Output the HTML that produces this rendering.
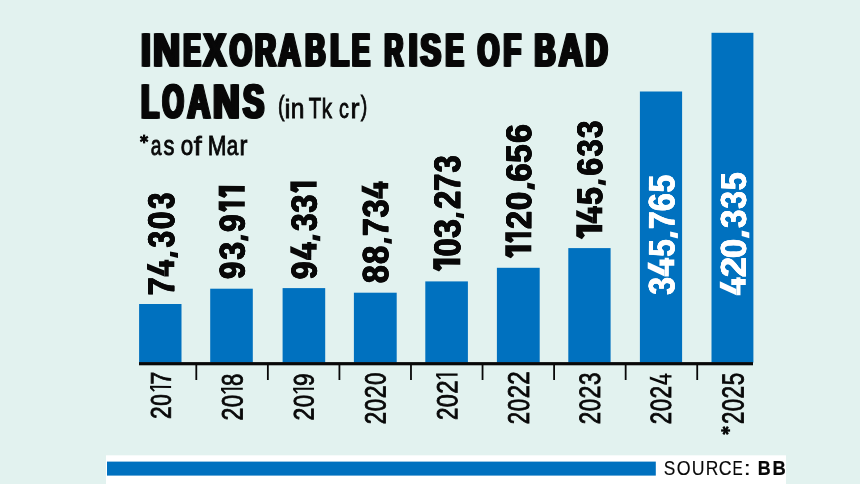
<!DOCTYPE html>
<html><head><meta charset="utf-8"><style>
html,body{margin:0;padding:0;background:#e2f2ef;}
body{width:860px;height:484px;overflow:hidden;}
svg{display:block;will-change:transform;}
text{font-family:"Liberation Sans",sans-serif;}
</style></head><body>
<svg width="860" height="484" viewBox="0 0 860 484">
<rect x="0" y="0" width="860" height="484" fill="#e2f2ef"/>
<rect x="139.1" y="304" width="42.40" height="58.60" fill="#0071bf"/>
<rect x="210.2" y="288.7" width="42.60" height="73.90" fill="#0071bf"/>
<rect x="282.6" y="288.1" width="42.60" height="74.50" fill="#0071bf"/>
<rect x="353.9" y="292.7" width="42.80" height="69.90" fill="#0071bf"/>
<rect x="425.3" y="281.4" width="42.60" height="81.20" fill="#0071bf"/>
<rect x="496.9" y="267.8" width="42.80" height="94.80" fill="#0071bf"/>
<rect x="568.3" y="248.1" width="42.30" height="114.50" fill="#0071bf"/>
<rect x="639.9" y="91.5" width="42.20" height="271.10" fill="#0071bf"/>
<rect x="711.5" y="32.8" width="41.90" height="329.80" fill="#0071bf"/>
<rect x="139" y="362.1" width="614" height="3.2" fill="#080808"/>
<rect x="195.40" y="364.1" width="1.8" height="15.9" fill="#080808"/>
<rect x="266.96" y="364.1" width="1.8" height="15.9" fill="#080808"/>
<rect x="338.52" y="364.1" width="1.8" height="15.9" fill="#080808"/>
<rect x="410.08" y="364.1" width="1.8" height="15.9" fill="#080808"/>
<rect x="481.64" y="364.1" width="1.8" height="15.9" fill="#080808"/>
<rect x="553.20" y="364.1" width="1.8" height="15.9" fill="#080808"/>
<rect x="624.76" y="364.1" width="1.8" height="15.9" fill="#080808"/>
<rect x="696.32" y="364.1" width="1.8" height="15.9" fill="#080808"/>
<g stroke="#080808" stroke-width="2.2"><line x1="144.10" y1="134.60" x2="144.10" y2="143.40"/><line x1="140.29" y1="136.80" x2="147.91" y2="141.20"/><line x1="140.29" y1="141.20" x2="147.91" y2="136.80"/></g>
<rect x="106" y="455.3" width="680" height="29" fill="#ffffff"/>
<rect x="107" y="461.6" width="548.8" height="14" fill="#0071bf"/>
<g stroke="#080808" stroke-width="2.3" stroke-linecap="butt"><line x1="721.10" y1="430.50" x2="730.10" y2="430.50"/><line x1="723.35" y1="426.60" x2="727.85" y2="434.40"/><line x1="727.85" y1="426.60" x2="723.35" y2="434.40"/></g>
<text transform="translate(141.70,66.00) scale(0.6971,1.0000)" x="-2.32" font-size="46.66" font-weight="bold" fill="#080808" stroke="#080808" stroke-width="1.60" stroke-linejoin="miter">I</text>
<text transform="translate(143.00,66.00) scale(0.6971,1.0000)" x="-2.32" font-size="46.66" font-weight="bold" fill="#080808" stroke="#080808" stroke-width="1.60" stroke-linejoin="miter">I</text>
<text transform="translate(144.30,66.00) scale(0.6971,1.0000)" x="-2.32" font-size="46.66" font-weight="bold" fill="#080808" stroke="#080808" stroke-width="1.60" stroke-linejoin="miter">I</text>
<text transform="translate(153.80,66.00) scale(0.7923,1.0000)" x="-2.32" font-size="46.66" font-weight="bold" fill="#080808" stroke="#080808" stroke-width="1.60" stroke-linejoin="miter">N</text>
<text transform="translate(155.10,66.00) scale(0.7923,1.0000)" x="-2.32" font-size="46.66" font-weight="bold" fill="#080808" stroke="#080808" stroke-width="1.60" stroke-linejoin="miter">N</text>
<text transform="translate(156.40,66.00) scale(0.7923,1.0000)" x="-2.32" font-size="46.66" font-weight="bold" fill="#080808" stroke="#080808" stroke-width="1.60" stroke-linejoin="miter">N</text>
<text transform="translate(183.60,66.00) scale(0.5436,1.0000)" x="-2.32" font-size="46.66" font-weight="bold" fill="#080808" stroke="#080808" stroke-width="1.60" stroke-linejoin="miter">E</text>
<text transform="translate(184.90,66.00) scale(0.5436,1.0000)" x="-2.32" font-size="46.66" font-weight="bold" fill="#080808" stroke="#080808" stroke-width="1.60" stroke-linejoin="miter">E</text>
<text transform="translate(186.20,66.00) scale(0.5436,1.0000)" x="-2.32" font-size="46.66" font-weight="bold" fill="#080808" stroke="#080808" stroke-width="1.60" stroke-linejoin="miter">E</text>
<text transform="translate(202.30,66.00) scale(0.7022,1.0000)" x="0.39" font-size="46.66" font-weight="bold" fill="#080808" stroke="#080808" stroke-width="1.60" stroke-linejoin="miter">X</text>
<text transform="translate(203.60,66.00) scale(0.7022,1.0000)" x="0.39" font-size="46.66" font-weight="bold" fill="#080808" stroke="#080808" stroke-width="1.60" stroke-linejoin="miter">X</text>
<text transform="translate(204.90,66.00) scale(0.7022,1.0000)" x="0.39" font-size="46.66" font-weight="bold" fill="#080808" stroke="#080808" stroke-width="1.60" stroke-linejoin="miter">X</text>
<text transform="translate(229.20,66.00) scale(0.6056,1.0000)" x="-1.11" font-size="46.66" font-weight="bold" fill="#080808" stroke="#080808" stroke-width="1.60" stroke-linejoin="miter">O</text>
<text transform="translate(230.50,66.00) scale(0.6056,1.0000)" x="-1.11" font-size="46.66" font-weight="bold" fill="#080808" stroke="#080808" stroke-width="1.60" stroke-linejoin="miter">O</text>
<text transform="translate(231.80,66.00) scale(0.6056,1.0000)" x="-1.11" font-size="46.66" font-weight="bold" fill="#080808" stroke="#080808" stroke-width="1.60" stroke-linejoin="miter">O</text>
<text transform="translate(255.20,66.00) scale(0.6151,1.0000)" x="-2.32" font-size="46.66" font-weight="bold" fill="#080808" stroke="#080808" stroke-width="1.60" stroke-linejoin="miter">R</text>
<text transform="translate(256.50,66.00) scale(0.6151,1.0000)" x="-2.32" font-size="46.66" font-weight="bold" fill="#080808" stroke="#080808" stroke-width="1.60" stroke-linejoin="miter">R</text>
<text transform="translate(257.80,66.00) scale(0.6151,1.0000)" x="-2.32" font-size="46.66" font-weight="bold" fill="#080808" stroke="#080808" stroke-width="1.60" stroke-linejoin="miter">R</text>
<text transform="translate(277.50,66.00) scale(0.6535,1.0000)" x="-0.36" font-size="46.66" font-weight="bold" fill="#080808" stroke="#080808" stroke-width="1.60" stroke-linejoin="miter">A</text>
<text transform="translate(278.80,66.00) scale(0.6535,1.0000)" x="-0.36" font-size="46.66" font-weight="bold" fill="#080808" stroke="#080808" stroke-width="1.60" stroke-linejoin="miter">A</text>
<text transform="translate(280.10,66.00) scale(0.6535,1.0000)" x="-0.36" font-size="46.66" font-weight="bold" fill="#080808" stroke="#080808" stroke-width="1.60" stroke-linejoin="miter">A</text>
<text transform="translate(305.30,66.00) scale(0.6022,1.0000)" x="-2.32" font-size="46.66" font-weight="bold" fill="#080808" stroke="#080808" stroke-width="1.60" stroke-linejoin="miter">B</text>
<text transform="translate(306.60,66.00) scale(0.6022,1.0000)" x="-2.32" font-size="46.66" font-weight="bold" fill="#080808" stroke="#080808" stroke-width="1.60" stroke-linejoin="miter">B</text>
<text transform="translate(307.90,66.00) scale(0.6022,1.0000)" x="-2.32" font-size="46.66" font-weight="bold" fill="#080808" stroke="#080808" stroke-width="1.60" stroke-linejoin="miter">B</text>
<text transform="translate(330.60,66.00) scale(0.6460,1.0000)" x="-2.32" font-size="46.66" font-weight="bold" fill="#080808" stroke="#080808" stroke-width="1.60" stroke-linejoin="miter">L</text>
<text transform="translate(331.90,66.00) scale(0.6460,1.0000)" x="-2.32" font-size="46.66" font-weight="bold" fill="#080808" stroke="#080808" stroke-width="1.60" stroke-linejoin="miter">L</text>
<text transform="translate(333.20,66.00) scale(0.6460,1.0000)" x="-2.32" font-size="46.66" font-weight="bold" fill="#080808" stroke="#080808" stroke-width="1.60" stroke-linejoin="miter">L</text>
<text transform="translate(352.00,66.00) scale(0.5760,1.0000)" x="-2.32" font-size="46.66" font-weight="bold" fill="#080808" stroke="#080808" stroke-width="1.60" stroke-linejoin="miter">E</text>
<text transform="translate(353.30,66.00) scale(0.5760,1.0000)" x="-2.32" font-size="46.66" font-weight="bold" fill="#080808" stroke="#080808" stroke-width="1.60" stroke-linejoin="miter">E</text>
<text transform="translate(354.60,66.00) scale(0.5760,1.0000)" x="-2.32" font-size="46.66" font-weight="bold" fill="#080808" stroke="#080808" stroke-width="1.60" stroke-linejoin="miter">E</text>
<text transform="translate(384.50,66.00) scale(0.5542,1.0000)" x="-2.32" font-size="46.66" font-weight="bold" fill="#080808" stroke="#080808" stroke-width="1.60" stroke-linejoin="miter">R</text>
<text transform="translate(385.80,66.00) scale(0.5542,1.0000)" x="-2.32" font-size="46.66" font-weight="bold" fill="#080808" stroke="#080808" stroke-width="1.60" stroke-linejoin="miter">R</text>
<text transform="translate(387.10,66.00) scale(0.5542,1.0000)" x="-2.32" font-size="46.66" font-weight="bold" fill="#080808" stroke="#080808" stroke-width="1.60" stroke-linejoin="miter">R</text>
<text transform="translate(409.00,66.00) scale(0.6850,1.0000)" x="-2.32" font-size="46.66" font-weight="bold" fill="#080808" stroke="#080808" stroke-width="1.60" stroke-linejoin="miter">I</text>
<text transform="translate(410.30,66.00) scale(0.6850,1.0000)" x="-2.32" font-size="46.66" font-weight="bold" fill="#080808" stroke="#080808" stroke-width="1.60" stroke-linejoin="miter">I</text>
<text transform="translate(411.60,66.00) scale(0.6850,1.0000)" x="-2.32" font-size="46.66" font-weight="bold" fill="#080808" stroke="#080808" stroke-width="1.60" stroke-linejoin="miter">I</text>
<text transform="translate(419.70,66.00) scale(0.6497,1.0000)" x="-0.54" font-size="46.66" font-weight="bold" fill="#080808" stroke="#080808" stroke-width="1.60" stroke-linejoin="miter">S</text>
<text transform="translate(421.00,66.00) scale(0.6497,1.0000)" x="-0.54" font-size="46.66" font-weight="bold" fill="#080808" stroke="#080808" stroke-width="1.60" stroke-linejoin="miter">S</text>
<text transform="translate(422.30,66.00) scale(0.6497,1.0000)" x="-0.54" font-size="46.66" font-weight="bold" fill="#080808" stroke="#080808" stroke-width="1.60" stroke-linejoin="miter">S</text>
<text transform="translate(445.70,66.00) scale(0.5760,1.0000)" x="-2.32" font-size="46.66" font-weight="bold" fill="#080808" stroke="#080808" stroke-width="1.60" stroke-linejoin="miter">E</text>
<text transform="translate(447.00,66.00) scale(0.5760,1.0000)" x="-2.32" font-size="46.66" font-weight="bold" fill="#080808" stroke="#080808" stroke-width="1.60" stroke-linejoin="miter">E</text>
<text transform="translate(448.30,66.00) scale(0.5760,1.0000)" x="-2.32" font-size="46.66" font-weight="bold" fill="#080808" stroke="#080808" stroke-width="1.60" stroke-linejoin="miter">E</text>
<text transform="translate(477.10,66.00) scale(0.5938,1.0000)" x="-1.11" font-size="46.66" font-weight="bold" fill="#080808" stroke="#080808" stroke-width="1.60" stroke-linejoin="miter">O</text>
<text transform="translate(478.40,66.00) scale(0.5938,1.0000)" x="-1.11" font-size="46.66" font-weight="bold" fill="#080808" stroke="#080808" stroke-width="1.60" stroke-linejoin="miter">O</text>
<text transform="translate(479.70,66.00) scale(0.5938,1.0000)" x="-1.11" font-size="46.66" font-weight="bold" fill="#080808" stroke="#080808" stroke-width="1.60" stroke-linejoin="miter">O</text>
<text transform="translate(503.60,66.00) scale(0.6134,1.0000)" x="-2.32" font-size="46.66" font-weight="bold" fill="#080808" stroke="#080808" stroke-width="1.60" stroke-linejoin="miter">F</text>
<text transform="translate(504.90,66.00) scale(0.6134,1.0000)" x="-2.32" font-size="46.66" font-weight="bold" fill="#080808" stroke="#080808" stroke-width="1.60" stroke-linejoin="miter">F</text>
<text transform="translate(506.20,66.00) scale(0.6134,1.0000)" x="-2.32" font-size="46.66" font-weight="bold" fill="#080808" stroke="#080808" stroke-width="1.60" stroke-linejoin="miter">F</text>
<text transform="translate(534.80,66.00) scale(0.6189,1.0000)" x="-2.32" font-size="46.66" font-weight="bold" fill="#080808" stroke="#080808" stroke-width="1.60" stroke-linejoin="miter">B</text>
<text transform="translate(536.10,66.00) scale(0.6189,1.0000)" x="-2.32" font-size="46.66" font-weight="bold" fill="#080808" stroke="#080808" stroke-width="1.60" stroke-linejoin="miter">B</text>
<text transform="translate(537.40,66.00) scale(0.6189,1.0000)" x="-2.32" font-size="46.66" font-weight="bold" fill="#080808" stroke="#080808" stroke-width="1.60" stroke-linejoin="miter">B</text>
<text transform="translate(557.90,66.00) scale(0.6990,1.0000)" x="-0.36" font-size="46.66" font-weight="bold" fill="#080808" stroke="#080808" stroke-width="1.60" stroke-linejoin="miter">A</text>
<text transform="translate(559.20,66.00) scale(0.6990,1.0000)" x="-0.36" font-size="46.66" font-weight="bold" fill="#080808" stroke="#080808" stroke-width="1.60" stroke-linejoin="miter">A</text>
<text transform="translate(560.50,66.00) scale(0.6990,1.0000)" x="-0.36" font-size="46.66" font-weight="bold" fill="#080808" stroke="#080808" stroke-width="1.60" stroke-linejoin="miter">A</text>
<text transform="translate(585.80,66.00) scale(0.6520,1.0000)" x="-2.32" font-size="46.66" font-weight="bold" fill="#080808" stroke="#080808" stroke-width="1.60" stroke-linejoin="miter">D</text>
<text transform="translate(587.10,66.00) scale(0.6520,1.0000)" x="-2.32" font-size="46.66" font-weight="bold" fill="#080808" stroke="#080808" stroke-width="1.60" stroke-linejoin="miter">D</text>
<text transform="translate(588.40,66.00) scale(0.6520,1.0000)" x="-2.32" font-size="46.66" font-weight="bold" fill="#080808" stroke="#080808" stroke-width="1.60" stroke-linejoin="miter">D</text>
<text transform="translate(141.50,118.00) scale(0.5900,1.0000)" x="-2.44" font-size="48.40" font-weight="bold" fill="#080808" stroke="#080808" stroke-width="1.60" stroke-linejoin="miter">L</text>
<text transform="translate(142.80,118.00) scale(0.5900,1.0000)" x="-2.44" font-size="48.40" font-weight="bold" fill="#080808" stroke="#080808" stroke-width="1.60" stroke-linejoin="miter">L</text>
<text transform="translate(144.10,118.00) scale(0.5900,1.0000)" x="-2.44" font-size="48.40" font-weight="bold" fill="#080808" stroke="#080808" stroke-width="1.60" stroke-linejoin="miter">L</text>
<text transform="translate(161.90,118.00) scale(0.5649,1.0000)" x="-1.19" font-size="48.40" font-weight="bold" fill="#080808" stroke="#080808" stroke-width="1.60" stroke-linejoin="miter">O</text>
<text transform="translate(163.20,118.00) scale(0.5649,1.0000)" x="-1.19" font-size="48.40" font-weight="bold" fill="#080808" stroke="#080808" stroke-width="1.60" stroke-linejoin="miter">O</text>
<text transform="translate(164.50,118.00) scale(0.5649,1.0000)" x="-1.19" font-size="48.40" font-weight="bold" fill="#080808" stroke="#080808" stroke-width="1.60" stroke-linejoin="miter">O</text>
<text transform="translate(186.60,118.00) scale(0.6428,1.0000)" x="-0.41" font-size="48.40" font-weight="bold" fill="#080808" stroke="#080808" stroke-width="1.60" stroke-linejoin="miter">A</text>
<text transform="translate(187.90,118.00) scale(0.6428,1.0000)" x="-0.41" font-size="48.40" font-weight="bold" fill="#080808" stroke="#080808" stroke-width="1.60" stroke-linejoin="miter">A</text>
<text transform="translate(189.20,118.00) scale(0.6428,1.0000)" x="-0.41" font-size="48.40" font-weight="bold" fill="#080808" stroke="#080808" stroke-width="1.60" stroke-linejoin="miter">A</text>
<text transform="translate(213.70,118.00) scale(0.7553,1.0000)" x="-2.44" font-size="48.40" font-weight="bold" fill="#080808" stroke="#080808" stroke-width="1.60" stroke-linejoin="miter">N</text>
<text transform="translate(215.00,118.00) scale(0.7553,1.0000)" x="-2.44" font-size="48.40" font-weight="bold" fill="#080808" stroke="#080808" stroke-width="1.60" stroke-linejoin="miter">N</text>
<text transform="translate(216.30,118.00) scale(0.7553,1.0000)" x="-2.44" font-size="48.40" font-weight="bold" fill="#080808" stroke="#080808" stroke-width="1.60" stroke-linejoin="miter">N</text>
<text transform="translate(242.10,118.00) scale(0.6536,1.0000)" x="-0.59" font-size="48.40" font-weight="bold" fill="#080808" stroke="#080808" stroke-width="1.60" stroke-linejoin="miter">S</text>
<text transform="translate(243.40,118.00) scale(0.6536,1.0000)" x="-0.59" font-size="48.40" font-weight="bold" fill="#080808" stroke="#080808" stroke-width="1.60" stroke-linejoin="miter">S</text>
<text transform="translate(244.70,118.00) scale(0.6536,1.0000)" x="-0.59" font-size="48.40" font-weight="bold" fill="#080808" stroke="#080808" stroke-width="1.60" stroke-linejoin="miter">S</text>
<text transform="translate(279.00,115.40) scale(0.6738,0.9300)" x="-1.35" font-size="29.07" font-weight="normal" fill="#080808" stroke="#080808" stroke-width="0.90" stroke-linejoin="miter">(</text>
<text transform="translate(285.90,118.00) scale(0.9262,0.8750)" x="-1.49" font-size="29.07" font-weight="normal" fill="#080808" stroke="#080808" stroke-width="0.90" stroke-linejoin="miter">i</text>
<text transform="translate(292.00,118.00) scale(0.8453,0.9500)" x="-1.48" font-size="29.07" font-weight="normal" fill="#080808" stroke="#080808" stroke-width="0.90" stroke-linejoin="miter">n</text>
<text transform="translate(309.00,118.00) scale(0.7037,1.0000)" x="-0.20" font-size="29.07" font-weight="normal" fill="#080808" stroke="#080808" stroke-width="0.90" stroke-linejoin="miter">T</text>
<text transform="translate(322.90,118.00) scale(0.7101,0.9400)" x="-1.51" font-size="29.07" font-weight="normal" fill="#080808" stroke="#080808" stroke-width="0.90" stroke-linejoin="miter">k</text>
<text transform="translate(339.50,118.00) scale(0.6774,0.9500)" x="-0.78" font-size="29.07" font-weight="normal" fill="#080808" stroke="#080808" stroke-width="0.90" stroke-linejoin="miter">c</text>
<text transform="translate(351.80,118.00) scale(0.9305,0.9500)" x="-1.48" font-size="29.07" font-weight="normal" fill="#080808" stroke="#080808" stroke-width="0.90" stroke-linejoin="miter">r</text>
<text transform="translate(360.50,115.40) scale(0.6738,0.9300)" x="0.28" font-size="29.07" font-weight="normal" fill="#080808" stroke="#080808" stroke-width="0.90" stroke-linejoin="miter">)</text>
<text transform="translate(151.20,155.00) scale(0.6792,0.9440)" x="-0.75" font-size="28.34" font-weight="normal" fill="#080808" stroke="#080808" stroke-width="0.90" stroke-linejoin="miter">a</text>
<text transform="translate(163.80,155.00) scale(0.7693,0.9440)" x="-0.34" font-size="28.34" font-weight="normal" fill="#080808" stroke="#080808" stroke-width="0.90" stroke-linejoin="miter">s</text>
<text transform="translate(181.30,155.00) scale(0.7912,0.9440)" x="-0.74" font-size="28.34" font-weight="normal" fill="#080808" stroke="#080808" stroke-width="0.90" stroke-linejoin="miter">o</text>
<text transform="translate(193.60,155.00) scale(1.0101,0.9300)" x="0.05" font-size="28.34" font-weight="normal" fill="#080808" stroke="#080808" stroke-width="0.90" stroke-linejoin="miter">f</text>
<text transform="translate(209.30,155.00) scale(0.7956,1.0000)" x="-1.88" font-size="28.34" font-weight="normal" fill="#080808" stroke="#080808" stroke-width="0.90" stroke-linejoin="miter">M</text>
<text transform="translate(227.20,155.00) scale(0.7310,0.9440)" x="-0.75" font-size="28.34" font-weight="normal" fill="#080808" stroke="#080808" stroke-width="0.90" stroke-linejoin="miter">a</text>
<text transform="translate(240.60,155.00) scale(0.8390,0.9440)" x="-1.43" font-size="28.34" font-weight="normal" fill="#080808" stroke="#080808" stroke-width="0.90" stroke-linejoin="miter">r</text>
<text transform="translate(174.00,294.60) rotate(-89.9) scale(0.8666,1)" x="-1.29" font-size="37.08" font-weight="bold" fill="#080808" stroke="#080808" stroke-width="0.60" stroke-linejoin="miter">7</text>
<text transform="translate(174.00,294.25) rotate(-89.9) scale(0.8666,1)" x="-1.29" font-size="37.08" font-weight="bold" fill="#080808" stroke="#080808" stroke-width="0.60" stroke-linejoin="miter">7</text>
<text transform="translate(174.00,293.90) rotate(-89.9) scale(0.8666,1)" x="-1.29" font-size="37.08" font-weight="bold" fill="#080808" stroke="#080808" stroke-width="0.60" stroke-linejoin="miter">7</text>
<polygon transform="translate(174.30,276.50) rotate(-89.9)" points="0.00,-9.90 16.80,-9.90 16.80,-5.60 0.00,-5.60" fill="#080808"/>
<polygon transform="translate(174.30,276.50) rotate(-89.9)" points="9.60,-15.30 15.20,-15.30 15.20,0.00 9.60,0.00" fill="#080808"/>
<polygon transform="translate(174.30,276.50) rotate(-89.9)" points="7.00,-27.30 12.90,-27.30 5.90,-9.90 0.00,-9.90" fill="#080808"/>
<polygon transform="translate(174.30,257.90) rotate(-89.9)" points="6.50,-4.30 1.79,-4.30 0.00,3.70 4.90,3.70" fill="#080808"/>
<text transform="translate(174.00,247.40) rotate(-89.9) scale(0.7986,1)" x="-0.55" font-size="37.08" font-weight="bold" fill="#080808" stroke="#080808" stroke-width="0.60" stroke-linejoin="miter">3</text>
<text transform="translate(174.00,247.05) rotate(-89.9) scale(0.7986,1)" x="-0.55" font-size="37.08" font-weight="bold" fill="#080808" stroke="#080808" stroke-width="0.60" stroke-linejoin="miter">3</text>
<text transform="translate(174.00,246.70) rotate(-89.9) scale(0.7986,1)" x="-0.55" font-size="37.08" font-weight="bold" fill="#080808" stroke="#080808" stroke-width="0.60" stroke-linejoin="miter">3</text>
<text transform="translate(174.00,228.60) rotate(-89.9) scale(0.8609,1)" x="-1.17" font-size="37.08" font-weight="bold" fill="#080808" stroke="#080808" stroke-width="0.60" stroke-linejoin="miter">0</text>
<text transform="translate(174.00,228.25) rotate(-89.9) scale(0.8609,1)" x="-1.17" font-size="37.08" font-weight="bold" fill="#080808" stroke="#080808" stroke-width="0.60" stroke-linejoin="miter">0</text>
<text transform="translate(174.00,227.90) rotate(-89.9) scale(0.8609,1)" x="-1.17" font-size="37.08" font-weight="bold" fill="#080808" stroke="#080808" stroke-width="0.60" stroke-linejoin="miter">0</text>
<text transform="translate(174.00,208.75) rotate(-89.9) scale(0.7802,1)" x="-0.55" font-size="37.08" font-weight="bold" fill="#080808" stroke="#080808" stroke-width="0.60" stroke-linejoin="miter">3</text>
<text transform="translate(174.00,208.40) rotate(-89.9) scale(0.7802,1)" x="-0.55" font-size="37.08" font-weight="bold" fill="#080808" stroke="#080808" stroke-width="0.60" stroke-linejoin="miter">3</text>
<text transform="translate(174.00,208.05) rotate(-89.9) scale(0.7802,1)" x="-0.55" font-size="37.08" font-weight="bold" fill="#080808" stroke="#080808" stroke-width="0.60" stroke-linejoin="miter">3</text>
<text transform="translate(244.50,278.50) rotate(-89.9) scale(0.8697,1)" x="-0.93" font-size="35.56" font-weight="bold" fill="#080808" stroke="#080808" stroke-width="0.60" stroke-linejoin="miter">9</text>
<text transform="translate(244.50,278.15) rotate(-89.9) scale(0.8697,1)" x="-0.93" font-size="35.56" font-weight="bold" fill="#080808" stroke="#080808" stroke-width="0.60" stroke-linejoin="miter">9</text>
<text transform="translate(244.50,277.80) rotate(-89.9) scale(0.8697,1)" x="-0.93" font-size="35.56" font-weight="bold" fill="#080808" stroke="#080808" stroke-width="0.60" stroke-linejoin="miter">9</text>
<text transform="translate(244.50,259.60) rotate(-89.9) scale(0.8865,1)" x="-0.52" font-size="35.56" font-weight="bold" fill="#080808" stroke="#080808" stroke-width="0.60" stroke-linejoin="miter">3</text>
<text transform="translate(244.50,259.25) rotate(-89.9) scale(0.8865,1)" x="-0.52" font-size="35.56" font-weight="bold" fill="#080808" stroke="#080808" stroke-width="0.60" stroke-linejoin="miter">3</text>
<text transform="translate(244.50,258.90) rotate(-89.9) scale(0.8865,1)" x="-0.52" font-size="35.56" font-weight="bold" fill="#080808" stroke="#080808" stroke-width="0.60" stroke-linejoin="miter">3</text>
<polygon transform="translate(244.80,241.30) rotate(-89.9)" points="6.50,-4.13 1.79,-4.13 0.00,3.55 4.90,3.55" fill="#080808"/>
<text transform="translate(244.50,231.50) rotate(-89.9) scale(0.8978,1)" x="-0.93" font-size="35.56" font-weight="bold" fill="#080808" stroke="#080808" stroke-width="0.60" stroke-linejoin="miter">9</text>
<text transform="translate(244.50,231.15) rotate(-89.9) scale(0.8978,1)" x="-0.93" font-size="35.56" font-weight="bold" fill="#080808" stroke="#080808" stroke-width="0.60" stroke-linejoin="miter">9</text>
<text transform="translate(244.50,230.80) rotate(-89.9) scale(0.8978,1)" x="-0.93" font-size="35.56" font-weight="bold" fill="#080808" stroke="#080808" stroke-width="0.60" stroke-linejoin="miter">9</text>
<polygon transform="translate(244.80,212.10) rotate(-89.9)" points="5.68,0.00 10.70,0.00 10.70,-26.20 2.33,-26.20 0.00,-20.46 2.79,-17.43 5.68,-19.95" fill="#080808"/>
<polygon transform="translate(244.80,198.10) rotate(-89.9)" points="6.47,0.00 12.20,0.00 12.20,-26.20 2.65,-26.20 0.00,-20.46 3.18,-17.43 6.47,-19.95" fill="#080808"/>
<text transform="translate(316.40,278.70) rotate(-89.9) scale(0.8855,1)" x="-0.94" font-size="35.83" font-weight="bold" fill="#080808" stroke="#080808" stroke-width="0.60" stroke-linejoin="miter">9</text>
<text transform="translate(316.40,278.35) rotate(-89.9) scale(0.8855,1)" x="-0.94" font-size="35.83" font-weight="bold" fill="#080808" stroke="#080808" stroke-width="0.60" stroke-linejoin="miter">9</text>
<text transform="translate(316.40,278.00) rotate(-89.9) scale(0.8855,1)" x="-0.94" font-size="35.83" font-weight="bold" fill="#080808" stroke="#080808" stroke-width="0.60" stroke-linejoin="miter">9</text>
<polygon transform="translate(316.70,259.90) rotate(-89.9)" points="0.00,-9.57 17.90,-9.57 17.90,-5.42 0.00,-5.42" fill="#080808"/>
<polygon transform="translate(316.70,259.90) rotate(-89.9)" points="10.23,-14.80 16.20,-14.80 16.20,0.00 10.23,0.00" fill="#080808"/>
<polygon transform="translate(316.70,259.90) rotate(-89.9)" points="7.46,-26.40 13.74,-26.40 6.29,-9.57 0.00,-9.57" fill="#080808"/>
<polygon transform="translate(316.70,241.30) rotate(-89.9)" points="6.70,-4.16 1.84,-4.16 0.00,3.58 5.05,3.58" fill="#080808"/>
<text transform="translate(316.40,230.80) rotate(-89.9) scale(0.8690,1)" x="-0.52" font-size="35.83" font-weight="bold" fill="#080808" stroke="#080808" stroke-width="0.60" stroke-linejoin="miter">3</text>
<text transform="translate(316.40,230.45) rotate(-89.9) scale(0.8690,1)" x="-0.52" font-size="35.83" font-weight="bold" fill="#080808" stroke="#080808" stroke-width="0.60" stroke-linejoin="miter">3</text>
<text transform="translate(316.40,230.10) rotate(-89.9) scale(0.8690,1)" x="-0.52" font-size="35.83" font-weight="bold" fill="#080808" stroke="#080808" stroke-width="0.60" stroke-linejoin="miter">3</text>
<text transform="translate(316.40,212.50) rotate(-89.9) scale(0.8962,1)" x="-0.52" font-size="35.83" font-weight="bold" fill="#080808" stroke="#080808" stroke-width="0.60" stroke-linejoin="miter">3</text>
<text transform="translate(316.40,212.15) rotate(-89.9) scale(0.8962,1)" x="-0.52" font-size="35.83" font-weight="bold" fill="#080808" stroke="#080808" stroke-width="0.60" stroke-linejoin="miter">3</text>
<text transform="translate(316.40,211.80) rotate(-89.9) scale(0.8962,1)" x="-0.52" font-size="35.83" font-weight="bold" fill="#080808" stroke="#080808" stroke-width="0.60" stroke-linejoin="miter">3</text>
<polygon transform="translate(316.70,193.10) rotate(-89.9)" points="6.15,0.00 11.60,0.00 11.60,-26.40 2.52,-26.40 0.00,-20.61 3.03,-17.57 6.15,-20.10" fill="#080808"/>
<text transform="translate(387.90,282.70) rotate(-89.9) scale(0.8792,1)" x="-0.85" font-size="36.11" font-weight="bold" fill="#080808" stroke="#080808" stroke-width="0.60" stroke-linejoin="miter">8</text>
<text transform="translate(387.90,282.35) rotate(-89.9) scale(0.8792,1)" x="-0.85" font-size="36.11" font-weight="bold" fill="#080808" stroke="#080808" stroke-width="0.60" stroke-linejoin="miter">8</text>
<text transform="translate(387.90,282.00) rotate(-89.9) scale(0.8792,1)" x="-0.85" font-size="36.11" font-weight="bold" fill="#080808" stroke="#080808" stroke-width="0.60" stroke-linejoin="miter">8</text>
<text transform="translate(387.90,263.50) rotate(-89.9) scale(0.9009,1)" x="-0.85" font-size="36.11" font-weight="bold" fill="#080808" stroke="#080808" stroke-width="0.60" stroke-linejoin="miter">8</text>
<text transform="translate(387.90,263.15) rotate(-89.9) scale(0.9009,1)" x="-0.85" font-size="36.11" font-weight="bold" fill="#080808" stroke="#080808" stroke-width="0.60" stroke-linejoin="miter">8</text>
<text transform="translate(387.90,262.80) rotate(-89.9) scale(0.9009,1)" x="-0.85" font-size="36.11" font-weight="bold" fill="#080808" stroke="#080808" stroke-width="0.60" stroke-linejoin="miter">8</text>
<polygon transform="translate(388.20,244.00) rotate(-89.9)" points="6.20,-4.19 1.71,-4.19 0.00,3.61 4.67,3.61" fill="#080808"/>
<text transform="translate(387.90,235.30) rotate(-89.9) scale(0.8892,1)" x="-1.25" font-size="36.11" font-weight="bold" fill="#080808" stroke="#080808" stroke-width="0.60" stroke-linejoin="miter">7</text>
<text transform="translate(387.90,234.95) rotate(-89.9) scale(0.8892,1)" x="-1.25" font-size="36.11" font-weight="bold" fill="#080808" stroke="#080808" stroke-width="0.60" stroke-linejoin="miter">7</text>
<text transform="translate(387.90,234.60) rotate(-89.9) scale(0.8892,1)" x="-1.25" font-size="36.11" font-weight="bold" fill="#080808" stroke="#080808" stroke-width="0.60" stroke-linejoin="miter">7</text>
<text transform="translate(387.90,217.30) rotate(-89.9) scale(0.8949,1)" x="-0.53" font-size="36.11" font-weight="bold" fill="#080808" stroke="#080808" stroke-width="0.60" stroke-linejoin="miter">3</text>
<text transform="translate(387.90,216.95) rotate(-89.9) scale(0.8949,1)" x="-0.53" font-size="36.11" font-weight="bold" fill="#080808" stroke="#080808" stroke-width="0.60" stroke-linejoin="miter">3</text>
<text transform="translate(387.90,216.60) rotate(-89.9) scale(0.8949,1)" x="-0.53" font-size="36.11" font-weight="bold" fill="#080808" stroke="#080808" stroke-width="0.60" stroke-linejoin="miter">3</text>
<polygon transform="translate(388.20,198.80) rotate(-89.9)" points="0.00,-9.65 17.60,-9.65 17.60,-5.46 0.00,-5.46" fill="#080808"/>
<polygon transform="translate(388.20,198.80) rotate(-89.9)" points="10.06,-14.91 15.92,-14.91 15.92,0.00 10.06,0.00" fill="#080808"/>
<polygon transform="translate(388.20,198.80) rotate(-89.9)" points="7.33,-26.60 13.51,-26.60 6.18,-9.65 0.00,-9.65" fill="#080808"/>
<polygon transform="translate(460.30,271.50) rotate(-89.9)" points="6.84,0.00 12.90,0.00 12.90,-27.20 2.80,-27.20 0.00,-21.24 3.37,-18.10 6.84,-20.71" fill="#080808"/>
<text transform="translate(460.00,255.80) rotate(-89.9) scale(0.8751,1)" x="-1.16" font-size="36.94" font-weight="bold" fill="#080808" stroke="#080808" stroke-width="0.60" stroke-linejoin="miter">0</text>
<text transform="translate(460.00,255.45) rotate(-89.9) scale(0.8751,1)" x="-1.16" font-size="36.94" font-weight="bold" fill="#080808" stroke="#080808" stroke-width="0.60" stroke-linejoin="miter">0</text>
<text transform="translate(460.00,255.10) rotate(-89.9) scale(0.8751,1)" x="-1.16" font-size="36.94" font-weight="bold" fill="#080808" stroke="#080808" stroke-width="0.60" stroke-linejoin="miter">0</text>
<text transform="translate(460.00,237.80) rotate(-89.9) scale(0.9123,1)" x="-0.55" font-size="36.94" font-weight="bold" fill="#080808" stroke="#080808" stroke-width="0.60" stroke-linejoin="miter">3</text>
<text transform="translate(460.00,237.45) rotate(-89.9) scale(0.9123,1)" x="-0.55" font-size="36.94" font-weight="bold" fill="#080808" stroke="#080808" stroke-width="0.60" stroke-linejoin="miter">3</text>
<text transform="translate(460.00,237.10) rotate(-89.9) scale(0.9123,1)" x="-0.55" font-size="36.94" font-weight="bold" fill="#080808" stroke="#080808" stroke-width="0.60" stroke-linejoin="miter">3</text>
<polygon transform="translate(460.30,218.40) rotate(-89.9)" points="6.00,-4.28 1.65,-4.28 0.00,3.69 4.52,3.69" fill="#080808"/>
<text transform="translate(460.00,208.40) rotate(-89.9) scale(0.8811,1)" x="-0.98" font-size="36.94" font-weight="bold" fill="#080808" stroke="#080808" stroke-width="0.60" stroke-linejoin="miter">2</text>
<text transform="translate(460.00,208.05) rotate(-89.9) scale(0.8811,1)" x="-0.98" font-size="36.94" font-weight="bold" fill="#080808" stroke="#080808" stroke-width="0.60" stroke-linejoin="miter">2</text>
<text transform="translate(460.00,207.70) rotate(-89.9) scale(0.8811,1)" x="-0.98" font-size="36.94" font-weight="bold" fill="#080808" stroke="#080808" stroke-width="0.60" stroke-linejoin="miter">2</text>
<text transform="translate(460.00,190.20) rotate(-89.9) scale(0.8363,1)" x="-1.29" font-size="36.94" font-weight="bold" fill="#080808" stroke="#080808" stroke-width="0.60" stroke-linejoin="miter">7</text>
<text transform="translate(460.00,189.85) rotate(-89.9) scale(0.8363,1)" x="-1.29" font-size="36.94" font-weight="bold" fill="#080808" stroke="#080808" stroke-width="0.60" stroke-linejoin="miter">7</text>
<text transform="translate(460.00,189.50) rotate(-89.9) scale(0.8363,1)" x="-1.29" font-size="36.94" font-weight="bold" fill="#080808" stroke="#080808" stroke-width="0.60" stroke-linejoin="miter">7</text>
<text transform="translate(460.00,172.20) rotate(-89.9) scale(0.8226,1)" x="-0.55" font-size="36.94" font-weight="bold" fill="#080808" stroke="#080808" stroke-width="0.60" stroke-linejoin="miter">3</text>
<text transform="translate(460.00,171.85) rotate(-89.9) scale(0.8226,1)" x="-0.55" font-size="36.94" font-weight="bold" fill="#080808" stroke="#080808" stroke-width="0.60" stroke-linejoin="miter">3</text>
<text transform="translate(460.00,171.50) rotate(-89.9) scale(0.8226,1)" x="-0.55" font-size="36.94" font-weight="bold" fill="#080808" stroke="#080808" stroke-width="0.60" stroke-linejoin="miter">3</text>
<polygon transform="translate(531.30,258.40) rotate(-89.9)" points="6.95,0.00 13.10,0.00 13.10,-26.10 2.85,-26.10 0.00,-20.38 3.42,-17.37 6.95,-19.88" fill="#080808"/>
<polygon transform="translate(531.30,243.00) rotate(-89.9)" points="5.68,0.00 10.70,0.00 10.70,-26.10 2.33,-26.10 0.00,-20.38 2.79,-17.37 5.68,-19.88" fill="#080808"/>
<text transform="translate(531.00,228.50) rotate(-89.9) scale(0.9121,1)" x="-0.93" font-size="35.42" font-weight="bold" fill="#080808" stroke="#080808" stroke-width="0.60" stroke-linejoin="miter">2</text>
<text transform="translate(531.00,228.15) rotate(-89.9) scale(0.9121,1)" x="-0.93" font-size="35.42" font-weight="bold" fill="#080808" stroke="#080808" stroke-width="0.60" stroke-linejoin="miter">2</text>
<text transform="translate(531.00,227.80) rotate(-89.9) scale(0.9121,1)" x="-0.93" font-size="35.42" font-weight="bold" fill="#080808" stroke="#080808" stroke-width="0.60" stroke-linejoin="miter">2</text>
<text transform="translate(531.00,209.40) rotate(-89.9) scale(0.9230,1)" x="-1.10" font-size="35.42" font-weight="bold" fill="#080808" stroke="#080808" stroke-width="0.60" stroke-linejoin="miter">0</text>
<text transform="translate(531.00,209.05) rotate(-89.9) scale(0.9230,1)" x="-1.10" font-size="35.42" font-weight="bold" fill="#080808" stroke="#080808" stroke-width="0.60" stroke-linejoin="miter">0</text>
<text transform="translate(531.00,208.70) rotate(-89.9) scale(0.9230,1)" x="-1.10" font-size="35.42" font-weight="bold" fill="#080808" stroke="#080808" stroke-width="0.60" stroke-linejoin="miter">0</text>
<polygon transform="translate(531.30,190.00) rotate(-89.9)" points="7.50,-4.11 2.07,-4.11 0.00,3.54 5.65,3.54" fill="#080808"/>
<text transform="translate(531.00,181.00) rotate(-89.9) scale(0.9255,1)" x="-1.00" font-size="35.42" font-weight="bold" fill="#080808" stroke="#080808" stroke-width="0.60" stroke-linejoin="miter">6</text>
<text transform="translate(531.00,180.65) rotate(-89.9) scale(0.9255,1)" x="-1.00" font-size="35.42" font-weight="bold" fill="#080808" stroke="#080808" stroke-width="0.60" stroke-linejoin="miter">6</text>
<text transform="translate(531.00,180.30) rotate(-89.9) scale(0.9255,1)" x="-1.00" font-size="35.42" font-weight="bold" fill="#080808" stroke="#080808" stroke-width="0.60" stroke-linejoin="miter">6</text>
<text transform="translate(531.00,162.40) rotate(-89.9) scale(0.9384,1)" x="-0.79" font-size="35.42" font-weight="bold" fill="#080808" stroke="#080808" stroke-width="0.60" stroke-linejoin="miter">5</text>
<text transform="translate(531.00,162.05) rotate(-89.9) scale(0.9384,1)" x="-0.79" font-size="35.42" font-weight="bold" fill="#080808" stroke="#080808" stroke-width="0.60" stroke-linejoin="miter">5</text>
<text transform="translate(531.00,161.70) rotate(-89.9) scale(0.9384,1)" x="-0.79" font-size="35.42" font-weight="bold" fill="#080808" stroke="#080808" stroke-width="0.60" stroke-linejoin="miter">5</text>
<text transform="translate(531.00,142.30) rotate(-89.9) scale(0.9481,1)" x="-1.00" font-size="35.42" font-weight="bold" fill="#080808" stroke="#080808" stroke-width="0.60" stroke-linejoin="miter">6</text>
<text transform="translate(531.00,141.95) rotate(-89.9) scale(0.9481,1)" x="-1.00" font-size="35.42" font-weight="bold" fill="#080808" stroke="#080808" stroke-width="0.60" stroke-linejoin="miter">6</text>
<text transform="translate(531.00,141.60) rotate(-89.9) scale(0.9481,1)" x="-1.00" font-size="35.42" font-weight="bold" fill="#080808" stroke="#080808" stroke-width="0.60" stroke-linejoin="miter">6</text>
<polygon transform="translate(602.30,239.40) rotate(-89.9)" points="7.69,0.00 14.50,0.00 14.50,-26.10 3.15,-26.10 0.00,-20.38 3.78,-17.37 7.69,-19.88" fill="#080808"/>
<polygon transform="translate(602.30,223.50) rotate(-89.9)" points="0.00,-9.46 17.60,-9.46 17.60,-5.35 0.00,-5.35" fill="#080808"/>
<polygon transform="translate(602.30,223.50) rotate(-89.9)" points="10.06,-14.63 15.92,-14.63 15.92,0.00 10.06,0.00" fill="#080808"/>
<polygon transform="translate(602.30,223.50) rotate(-89.9)" points="7.33,-26.10 13.51,-26.10 6.18,-9.46 0.00,-9.46" fill="#080808"/>
<text transform="translate(602.00,204.50) rotate(-89.9) scale(0.8890,1)" x="-0.79" font-size="35.42" font-weight="bold" fill="#080808" stroke="#080808" stroke-width="0.60" stroke-linejoin="miter">5</text>
<text transform="translate(602.00,204.15) rotate(-89.9) scale(0.8890,1)" x="-0.79" font-size="35.42" font-weight="bold" fill="#080808" stroke="#080808" stroke-width="0.60" stroke-linejoin="miter">5</text>
<text transform="translate(602.00,203.80) rotate(-89.9) scale(0.8890,1)" x="-0.79" font-size="35.42" font-weight="bold" fill="#080808" stroke="#080808" stroke-width="0.60" stroke-linejoin="miter">5</text>
<polygon transform="translate(602.30,185.50) rotate(-89.9)" points="6.30,-4.11 1.73,-4.11 0.00,3.54 4.75,3.54" fill="#080808"/>
<text transform="translate(602.00,175.00) rotate(-89.9) scale(0.8973,1)" x="-1.00" font-size="35.42" font-weight="bold" fill="#080808" stroke="#080808" stroke-width="0.60" stroke-linejoin="miter">6</text>
<text transform="translate(602.00,174.65) rotate(-89.9) scale(0.8973,1)" x="-1.00" font-size="35.42" font-weight="bold" fill="#080808" stroke="#080808" stroke-width="0.60" stroke-linejoin="miter">6</text>
<text transform="translate(602.00,174.30) rotate(-89.9) scale(0.8973,1)" x="-1.00" font-size="35.42" font-weight="bold" fill="#080808" stroke="#080808" stroke-width="0.60" stroke-linejoin="miter">6</text>
<text transform="translate(602.00,156.40) rotate(-89.9) scale(0.8679,1)" x="-0.51" font-size="35.42" font-weight="bold" fill="#080808" stroke="#080808" stroke-width="0.60" stroke-linejoin="miter">3</text>
<text transform="translate(602.00,156.05) rotate(-89.9) scale(0.8679,1)" x="-0.51" font-size="35.42" font-weight="bold" fill="#080808" stroke="#080808" stroke-width="0.60" stroke-linejoin="miter">3</text>
<text transform="translate(602.00,155.70) rotate(-89.9) scale(0.8679,1)" x="-0.51" font-size="35.42" font-weight="bold" fill="#080808" stroke="#080808" stroke-width="0.60" stroke-linejoin="miter">3</text>
<text transform="translate(602.00,137.90) rotate(-89.9) scale(0.8844,1)" x="-0.51" font-size="35.42" font-weight="bold" fill="#080808" stroke="#080808" stroke-width="0.60" stroke-linejoin="miter">3</text>
<text transform="translate(602.00,137.55) rotate(-89.9) scale(0.8844,1)" x="-0.51" font-size="35.42" font-weight="bold" fill="#080808" stroke="#080808" stroke-width="0.60" stroke-linejoin="miter">3</text>
<text transform="translate(602.00,137.20) rotate(-89.9) scale(0.8844,1)" x="-0.51" font-size="35.42" font-weight="bold" fill="#080808" stroke="#080808" stroke-width="0.60" stroke-linejoin="miter">3</text>
<text transform="translate(674.15,294.50) rotate(-89.9) scale(0.8723,1)" x="-0.69" font-size="36.53" font-weight="bold" fill="#ffffff" stroke="#ffffff" stroke-width="0.30" stroke-linejoin="miter">3</text>
<text transform="translate(674.15,294.25) rotate(-89.9) scale(0.8723,1)" x="-0.69" font-size="36.53" font-weight="bold" fill="#ffffff" stroke="#ffffff" stroke-width="0.30" stroke-linejoin="miter">3</text>
<text transform="translate(674.15,294.00) rotate(-89.9) scale(0.8723,1)" x="-0.69" font-size="36.53" font-weight="bold" fill="#ffffff" stroke="#ffffff" stroke-width="0.30" stroke-linejoin="miter">3</text>
<polygon transform="translate(674.30,276.40) rotate(-89.9)" points="0.00,-9.65 18.60,-9.65 18.60,-5.46 0.00,-5.46" fill="#ffffff"/>
<polygon transform="translate(674.30,276.40) rotate(-89.9)" points="10.63,-14.91 16.83,-14.91 16.83,0.00 10.63,0.00" fill="#ffffff"/>
<polygon transform="translate(674.30,276.40) rotate(-89.9)" points="7.75,-26.60 14.28,-26.60 6.53,-9.65 0.00,-9.65" fill="#ffffff"/>
<text transform="translate(674.15,256.30) rotate(-89.9) scale(0.8606,1)" x="-0.97" font-size="36.53" font-weight="bold" fill="#ffffff" stroke="#ffffff" stroke-width="0.30" stroke-linejoin="miter">5</text>
<text transform="translate(674.15,256.05) rotate(-89.9) scale(0.8606,1)" x="-0.97" font-size="36.53" font-weight="bold" fill="#ffffff" stroke="#ffffff" stroke-width="0.30" stroke-linejoin="miter">5</text>
<text transform="translate(674.15,255.80) rotate(-89.9) scale(0.8606,1)" x="-0.97" font-size="36.53" font-weight="bold" fill="#ffffff" stroke="#ffffff" stroke-width="0.30" stroke-linejoin="miter">5</text>
<polygon transform="translate(674.30,238.40) rotate(-89.9)" points="6.90,-4.19 1.90,-4.19 0.00,3.61 5.20,3.61" fill="#ffffff"/>
<text transform="translate(674.15,228.30) rotate(-89.9) scale(0.8830,1)" x="-1.42" font-size="36.53" font-weight="bold" fill="#ffffff" stroke="#ffffff" stroke-width="0.30" stroke-linejoin="miter">7</text>
<text transform="translate(674.15,228.05) rotate(-89.9) scale(0.8830,1)" x="-1.42" font-size="36.53" font-weight="bold" fill="#ffffff" stroke="#ffffff" stroke-width="0.30" stroke-linejoin="miter">7</text>
<text transform="translate(674.15,227.80) rotate(-89.9) scale(0.8830,1)" x="-1.42" font-size="36.53" font-weight="bold" fill="#ffffff" stroke="#ffffff" stroke-width="0.30" stroke-linejoin="miter">7</text>
<text transform="translate(674.15,210.40) rotate(-89.9) scale(0.8910,1)" x="-1.19" font-size="36.53" font-weight="bold" fill="#ffffff" stroke="#ffffff" stroke-width="0.30" stroke-linejoin="miter">6</text>
<text transform="translate(674.15,210.15) rotate(-89.9) scale(0.8910,1)" x="-1.19" font-size="36.53" font-weight="bold" fill="#ffffff" stroke="#ffffff" stroke-width="0.30" stroke-linejoin="miter">6</text>
<text transform="translate(674.15,209.90) rotate(-89.9) scale(0.8910,1)" x="-1.19" font-size="36.53" font-weight="bold" fill="#ffffff" stroke="#ffffff" stroke-width="0.30" stroke-linejoin="miter">6</text>
<text transform="translate(674.15,191.90) rotate(-89.9) scale(0.8715,1)" x="-0.97" font-size="36.53" font-weight="bold" fill="#ffffff" stroke="#ffffff" stroke-width="0.30" stroke-linejoin="miter">5</text>
<text transform="translate(674.15,191.65) rotate(-89.9) scale(0.8715,1)" x="-0.97" font-size="36.53" font-weight="bold" fill="#ffffff" stroke="#ffffff" stroke-width="0.30" stroke-linejoin="miter">5</text>
<text transform="translate(674.15,191.40) rotate(-89.9) scale(0.8715,1)" x="-0.97" font-size="36.53" font-weight="bold" fill="#ffffff" stroke="#ffffff" stroke-width="0.30" stroke-linejoin="miter">5</text>
<polygon transform="translate(745.80,295.30) rotate(-89.9)" points="0.00,-9.43 18.10,-9.43 18.10,-5.33 0.00,-5.33" fill="#ffffff"/>
<polygon transform="translate(745.80,295.30) rotate(-89.9)" points="10.34,-14.57 16.38,-14.57 16.38,0.00 10.34,0.00" fill="#ffffff"/>
<polygon transform="translate(745.80,295.30) rotate(-89.9)" points="7.54,-26.00 13.90,-26.00 6.36,-9.43 0.00,-9.43" fill="#ffffff"/>
<text transform="translate(745.65,276.50) rotate(-89.9) scale(1.0237,1)" x="-1.09" font-size="35.69" font-weight="bold" fill="#ffffff" stroke="#ffffff" stroke-width="0.30" stroke-linejoin="miter">2</text>
<text transform="translate(745.65,276.25) rotate(-89.9) scale(1.0237,1)" x="-1.09" font-size="35.69" font-weight="bold" fill="#ffffff" stroke="#ffffff" stroke-width="0.30" stroke-linejoin="miter">2</text>
<text transform="translate(745.65,276.00) rotate(-89.9) scale(1.0237,1)" x="-1.09" font-size="35.69" font-weight="bold" fill="#ffffff" stroke="#ffffff" stroke-width="0.30" stroke-linejoin="miter">2</text>
<text transform="translate(745.65,257.30) rotate(-89.9) scale(0.9840,1)" x="-1.26" font-size="35.69" font-weight="bold" fill="#ffffff" stroke="#ffffff" stroke-width="0.30" stroke-linejoin="miter">0</text>
<text transform="translate(745.65,257.05) rotate(-89.9) scale(0.9840,1)" x="-1.26" font-size="35.69" font-weight="bold" fill="#ffffff" stroke="#ffffff" stroke-width="0.30" stroke-linejoin="miter">0</text>
<text transform="translate(745.65,256.80) rotate(-89.9) scale(0.9840,1)" x="-1.26" font-size="35.69" font-weight="bold" fill="#ffffff" stroke="#ffffff" stroke-width="0.30" stroke-linejoin="miter">0</text>
<polygon transform="translate(745.80,238.20) rotate(-89.9)" points="7.60,-4.10 2.09,-4.10 0.00,3.52 5.73,3.52" fill="#ffffff"/>
<text transform="translate(745.65,227.60) rotate(-89.9) scale(0.9256,1)" x="-0.67" font-size="35.69" font-weight="bold" fill="#ffffff" stroke="#ffffff" stroke-width="0.30" stroke-linejoin="miter">3</text>
<text transform="translate(745.65,227.35) rotate(-89.9) scale(0.9256,1)" x="-0.67" font-size="35.69" font-weight="bold" fill="#ffffff" stroke="#ffffff" stroke-width="0.30" stroke-linejoin="miter">3</text>
<text transform="translate(745.65,227.10) rotate(-89.9) scale(0.9256,1)" x="-0.67" font-size="35.69" font-weight="bold" fill="#ffffff" stroke="#ffffff" stroke-width="0.30" stroke-linejoin="miter">3</text>
<text transform="translate(745.65,208.40) rotate(-89.9) scale(0.8868,1)" x="-0.67" font-size="35.69" font-weight="bold" fill="#ffffff" stroke="#ffffff" stroke-width="0.30" stroke-linejoin="miter">3</text>
<text transform="translate(745.65,208.15) rotate(-89.9) scale(0.8868,1)" x="-0.67" font-size="35.69" font-weight="bold" fill="#ffffff" stroke="#ffffff" stroke-width="0.30" stroke-linejoin="miter">3</text>
<text transform="translate(745.65,207.90) rotate(-89.9) scale(0.8868,1)" x="-0.67" font-size="35.69" font-weight="bold" fill="#ffffff" stroke="#ffffff" stroke-width="0.30" stroke-linejoin="miter">3</text>
<text transform="translate(745.65,189.60) rotate(-89.9) scale(0.9025,1)" x="-0.95" font-size="35.69" font-weight="bold" fill="#ffffff" stroke="#ffffff" stroke-width="0.30" stroke-linejoin="miter">5</text>
<text transform="translate(745.65,189.35) rotate(-89.9) scale(0.9025,1)" x="-0.95" font-size="35.69" font-weight="bold" fill="#ffffff" stroke="#ffffff" stroke-width="0.30" stroke-linejoin="miter">5</text>
<text transform="translate(745.65,189.10) rotate(-89.9) scale(0.9025,1)" x="-0.95" font-size="35.69" font-weight="bold" fill="#ffffff" stroke="#ffffff" stroke-width="0.30" stroke-linejoin="miter">5</text>
<text transform="translate(170.68,418.20) rotate(-89.9) scale(0.7946,1)" x="-1.01" font-size="28.52" font-weight="normal" fill="#080808" stroke="#080808" stroke-width="0.85" stroke-linejoin="miter">2</text>
<text transform="translate(170.68,405.30) rotate(-89.9) scale(0.7249,1)" x="-0.69" font-size="28.52" font-weight="normal" fill="#080808" stroke="#080808" stroke-width="0.85" stroke-linejoin="miter">0</text>
<polygon transform="translate(171.10,391.70) rotate(-89.9)" points="3.80,0.00 5.80,0.00 5.80,-21.10 3.50,-21.10 0.00,-17.50 1.20,-16.20 3.80,-18.80" fill="#080808"/>
<text transform="translate(170.68,383.60) rotate(-89.9) scale(0.8035,1)" x="-1.04" font-size="28.52" font-weight="normal" fill="#080808" stroke="#080808" stroke-width="0.85" stroke-linejoin="miter">7</text>
<text transform="translate(242.38,419.70) rotate(-89.9) scale(0.7836,1)" x="-1.06" font-size="29.51" font-weight="normal" fill="#080808" stroke="#080808" stroke-width="0.85" stroke-linejoin="miter">2</text>
<text transform="translate(242.38,406.80) rotate(-89.9) scale(0.7556,1)" x="-0.73" font-size="29.51" font-weight="normal" fill="#080808" stroke="#080808" stroke-width="0.85" stroke-linejoin="miter">0</text>
<polygon transform="translate(242.80,394.00) rotate(-89.9)" points="4.13,0.00 6.30,0.00 6.30,-21.80 3.80,-21.80 0.00,-18.08 1.30,-16.74 4.13,-19.42" fill="#080808"/>
<text transform="translate(242.38,385.40) rotate(-89.9) scale(0.7485,1)" x="-0.86" font-size="29.51" font-weight="normal" fill="#080808" stroke="#080808" stroke-width="0.85" stroke-linejoin="miter">8</text>
<text transform="translate(313.57,419.70) rotate(-89.9) scale(0.8166,1)" x="-1.00" font-size="28.24" font-weight="normal" fill="#080808" stroke="#080808" stroke-width="0.85" stroke-linejoin="miter">2</text>
<text transform="translate(313.57,406.80) rotate(-89.9) scale(0.7875,1)" x="-0.68" font-size="28.24" font-weight="normal" fill="#080808" stroke="#080808" stroke-width="0.85" stroke-linejoin="miter">0</text>
<polygon transform="translate(314.00,393.70) rotate(-89.9)" points="3.93,0.00 6.00,0.00 6.00,-20.90 3.62,-20.90 0.00,-17.33 1.24,-16.05 3.93,-18.62" fill="#080808"/>
<text transform="translate(313.57,385.40) rotate(-89.9) scale(0.7917,1)" x="-0.90" font-size="28.24" font-weight="normal" fill="#080808" stroke="#080808" stroke-width="0.85" stroke-linejoin="miter">9</text>
<text transform="translate(385.38,423.50) rotate(-89.9) scale(0.7591,1)" x="-1.05" font-size="29.37" font-weight="normal" fill="#080808" stroke="#080808" stroke-width="0.85" stroke-linejoin="miter">2</text>
<text transform="translate(385.38,410.80) rotate(-89.9) scale(0.7523,1)" x="-0.72" font-size="29.37" font-weight="normal" fill="#080808" stroke="#080808" stroke-width="0.85" stroke-linejoin="miter">0</text>
<text transform="translate(385.38,397.50) rotate(-89.9) scale(0.7801,1)" x="-1.05" font-size="29.37" font-weight="normal" fill="#080808" stroke="#080808" stroke-width="0.85" stroke-linejoin="miter">2</text>
<text transform="translate(385.38,384.40) rotate(-89.9) scale(0.7523,1)" x="-0.72" font-size="29.37" font-weight="normal" fill="#080808" stroke="#080808" stroke-width="0.85" stroke-linejoin="miter">0</text>
<text transform="translate(457.18,419.30) rotate(-89.9) scale(0.7660,1)" x="-1.04" font-size="29.08" font-weight="normal" fill="#080808" stroke="#080808" stroke-width="0.85" stroke-linejoin="miter">2</text>
<text transform="translate(457.18,406.80) rotate(-89.9) scale(0.8066,1)" x="-0.71" font-size="29.08" font-weight="normal" fill="#080808" stroke="#080808" stroke-width="0.85" stroke-linejoin="miter">0</text>
<text transform="translate(457.18,392.90) rotate(-89.9) scale(0.8227,1)" x="-1.04" font-size="29.08" font-weight="normal" fill="#080808" stroke="#080808" stroke-width="0.85" stroke-linejoin="miter">2</text>
<polygon transform="translate(457.60,379.60) rotate(-89.9)" points="3.93,0.00 6.00,0.00 6.00,-21.50 3.62,-21.50 0.00,-17.83 1.24,-16.51 3.93,-19.16" fill="#080808"/>
<text transform="translate(528.88,423.50) rotate(-89.9) scale(0.7286,1)" x="-1.09" font-size="30.07" font-weight="normal" fill="#080808" stroke="#080808" stroke-width="0.85" stroke-linejoin="miter">2</text>
<text transform="translate(528.88,410.80) rotate(-89.9) scale(0.7357,1)" x="-0.75" font-size="30.07" font-weight="normal" fill="#080808" stroke="#080808" stroke-width="0.85" stroke-linejoin="miter">0</text>
<text transform="translate(528.88,397.50) rotate(-89.9) scale(0.7904,1)" x="-1.09" font-size="30.07" font-weight="normal" fill="#080808" stroke="#080808" stroke-width="0.85" stroke-linejoin="miter">2</text>
<text transform="translate(528.88,383.90) rotate(-89.9) scale(0.7973,1)" x="-1.09" font-size="30.07" font-weight="normal" fill="#080808" stroke="#080808" stroke-width="0.85" stroke-linejoin="miter">2</text>
<text transform="translate(599.88,423.50) rotate(-89.9) scale(0.7556,1)" x="-1.06" font-size="29.51" font-weight="normal" fill="#080808" stroke="#080808" stroke-width="0.85" stroke-linejoin="miter">2</text>
<text transform="translate(599.88,410.80) rotate(-89.9) scale(0.7489,1)" x="-0.73" font-size="29.51" font-weight="normal" fill="#080808" stroke="#080808" stroke-width="0.85" stroke-linejoin="miter">0</text>
<text transform="translate(599.88,397.60) rotate(-89.9) scale(0.7836,1)" x="-1.06" font-size="29.51" font-weight="normal" fill="#080808" stroke="#080808" stroke-width="0.85" stroke-linejoin="miter">2</text>
<text transform="translate(599.88,384.40) rotate(-89.9) scale(0.7547,1)" x="-0.70" font-size="29.51" font-weight="normal" fill="#080808" stroke="#080808" stroke-width="0.85" stroke-linejoin="miter">3</text>
<text transform="translate(671.08,423.50) rotate(-89.9) scale(0.7591,1)" x="-1.05" font-size="29.37" font-weight="normal" fill="#080808" stroke="#080808" stroke-width="0.85" stroke-linejoin="miter">2</text>
<text transform="translate(671.08,410.80) rotate(-89.9) scale(0.7523,1)" x="-0.72" font-size="29.37" font-weight="normal" fill="#080808" stroke="#080808" stroke-width="0.85" stroke-linejoin="miter">0</text>
<text transform="translate(671.08,397.60) rotate(-89.9) scale(0.7731,1)" x="-1.05" font-size="29.37" font-weight="normal" fill="#080808" stroke="#080808" stroke-width="0.85" stroke-linejoin="miter">2</text>
<polygon transform="translate(671.50,384.70) rotate(-89.9)" points="0.00,-6.60 11.20,-6.60 11.20,-4.50 0.00,-4.50" fill="#080808"/>
<polygon transform="translate(671.50,384.70) rotate(-89.9)" points="7.30,-11.90 9.50,-11.90 9.50,0.00 7.30,0.00" fill="#080808"/>
<polygon transform="translate(671.50,384.70) rotate(-89.9)" points="5.50,-21.70 8.20,-21.70 2.70,-6.60 0.00,-6.60" fill="#080808"/>
<text transform="translate(743.38,423.20) rotate(-89.9) scale(0.7258,1)" x="-1.11" font-size="30.49" font-weight="normal" fill="#080808" stroke="#080808" stroke-width="0.85" stroke-linejoin="miter">2</text>
<text transform="translate(743.38,410.80) rotate(-89.9) scale(0.7260,1)" x="-0.77" font-size="30.49" font-weight="normal" fill="#080808" stroke="#080808" stroke-width="0.85" stroke-linejoin="miter">0</text>
<text transform="translate(743.38,397.60) rotate(-89.9) scale(0.7462,1)" x="-1.11" font-size="30.49" font-weight="normal" fill="#080808" stroke="#080808" stroke-width="0.85" stroke-linejoin="miter">2</text>
<text transform="translate(743.38,384.70) rotate(-89.9) scale(0.7317,1)" x="-0.80" font-size="30.49" font-weight="normal" fill="#080808" stroke="#080808" stroke-width="0.85" stroke-linejoin="miter">5</text>
<text transform="translate(664.40,475.00) scale(0.8922,1.0000)" x="-0.81" font-size="19.40" font-weight="normal" fill="#080808" stroke="#080808" stroke-width="0.15" stroke-linejoin="miter">S</text>
<text transform="translate(677.40,475.00) scale(0.9182,1.0000)" x="-0.84" font-size="19.40" font-weight="normal" fill="#080808" stroke="#080808" stroke-width="0.15" stroke-linejoin="miter">O</text>
<text transform="translate(693.10,475.00) scale(0.9132,1.0000)" x="-1.42" font-size="19.40" font-weight="normal" fill="#080808" stroke="#080808" stroke-width="0.15" stroke-linejoin="miter">U</text>
<text transform="translate(707.00,475.00) scale(0.8997,1.0000)" x="-1.52" font-size="19.40" font-weight="normal" fill="#080808" stroke="#080808" stroke-width="0.15" stroke-linejoin="miter">R</text>
<text transform="translate(719.50,475.00) scale(0.9165,1.0000)" x="-0.91" font-size="19.40" font-weight="normal" fill="#080808" stroke="#080808" stroke-width="0.15" stroke-linejoin="miter">C</text>
<text transform="translate(733.80,475.00) scale(0.7875,1.0000)" x="-1.52" font-size="19.40" font-weight="normal" fill="#080808" stroke="#080808" stroke-width="0.15" stroke-linejoin="miter">E</text>
<text transform="translate(746.00,475.00) scale(1.3016,1.0000)" x="-1.70" font-size="19.40" font-weight="normal" fill="#080808" stroke="#080808" stroke-width="0.15" stroke-linejoin="miter">:</text>
<text transform="translate(758.90,475.00) scale(0.9190,1.0000)" x="-1.20" font-size="19.48" font-weight="bold" fill="#080808" stroke="#080808" stroke-width="0.20" stroke-linejoin="miter">B</text>
<text transform="translate(773.50,475.00) scale(0.9439,1.0000)" x="-1.20" font-size="19.48" font-weight="bold" fill="#080808" stroke="#080808" stroke-width="0.20" stroke-linejoin="miter">B</text>
</svg></body></html>
